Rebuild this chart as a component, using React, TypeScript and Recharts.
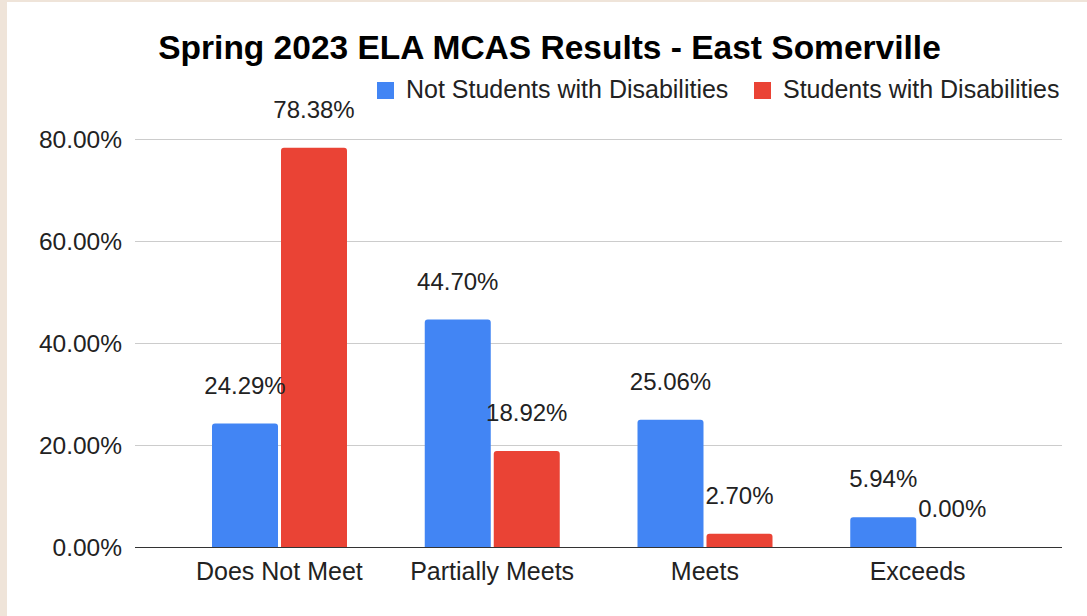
import React from "react";
import { BarChart, Bar, XAxis, YAxis, CartesianGrid, LabelList } from "recharts";

const categories = ["Does Not Meet", "Partially Meets", "Meets", "Exceeds"];
const notSwd = [0.2429, 0.447, 0.2506, 0.0594];
const swd = [0.7838, 0.1892, 0.027, 0.0];
const yTicks = [0, 0.2, 0.4, 0.6, 0.8];
const seriesNames = ["Not Students with Disabilities", "Students with Disabilities"];
const seriesColors = ["#4285F4", "#EA4335"];
const title = "Spring 2023 ELA MCAS Results - East Somerville";

const data = categories.map((c, i) => ({ name: c, a: notSwd[i], b: swd[i] }));

const FONT = "'Liberation Sans', Arial, sans-serif";
const pct = (v: any) => `${(Number(v) * 100).toFixed(2)}%`;

export default function App() {
  return (
    <div
      style={{
        position: "absolute",
        left: 0,
        top: 0,
        width: 1087,
        height: 616,
        background: "#efe4d9",
        overflow: "hidden",
        fontFamily: FONT,
      }}
    >
      <div style={{ position: "absolute", left: 7, top: 2, width: 1080, height: 614, background: "#ffffff" }} />
      <div style={{ position: "absolute", left: 0, top: 0 }}>
        <BarChart
          width={1087}
          height={616}
          data={data}
          margin={{ top: 139.5, right: 25, bottom: 38.5, left: 10 }}
          barCategoryGap={39}
          barGap={3}
        >
          <CartesianGrid vertical={false} stroke="#cccccc" strokeWidth={1} />
          <YAxis
            width={125}
            domain={[0, 0.8]}
            ticks={yTicks}
            tickFormatter={pct}
            axisLine={false}
            tickLine={false}
            tickSize={0}
            tickMargin={13}
            tick={{ fill: "#222222", fontSize: 24.5, fontFamily: FONT }}
          />
          <XAxis
            dataKey="name"
            height={30}
            padding={{ left: 38, right: 38 }}
            axisLine={{ stroke: "#333333", strokeWidth: 1 }}
            tickLine={false}
            tickSize={0}
            tickMargin={15}
            tick={{ fill: "#222222", fontSize: 25, fontFamily: FONT }}
          />
          <Bar dataKey="a" name={seriesNames[0]} fill={seriesColors[0]} radius={[3, 3, 0, 0]} isAnimationActive={false}>
            <LabelList
              dataKey="a"
              position="top"
              offset={30}
              formatter={pct}
              style={{ fill: "#222222", fontSize: 24, fontFamily: FONT }}
            />
          </Bar>
          <Bar
            dataKey="b"
            name={seriesNames[1]}
            fill={seriesColors[1]}
            radius={[3, 3, 0, 0]}
            minPointSize={0.01}
            isAnimationActive={false}
          >
            <LabelList
              dataKey="b"
              position="top"
              offset={30}
              formatter={pct}
              style={{ fill: "#222222", fontSize: 24, fontFamily: FONT }}
            />
          </Bar>
        </BarChart>
      </div>
      <svg
        width={1087}
        height={616}
        style={{ position: "absolute", left: 0, top: 0, pointerEvents: "none" }}
      >
        <text x={549.5} y={59} textAnchor="middle" fontSize={33.5} fontWeight="bold" fill="#000000" fontFamily={FONT}>
          {title}
        </text>
        <rect x={377} y={82} width={17} height={17} fill={seriesColors[0]} />
        <text x={406} y={98} fontSize={25} fill="#222222" fontFamily={FONT}>
          {seriesNames[0]}
        </text>
        <rect x={754} y={82} width={17} height={17} fill={seriesColors[1]} />
        <text x={783} y={98} fontSize={25} fill="#222222" fontFamily={FONT}>
          {seriesNames[1]}
        </text>
      </svg>
    </div>
  );
}
